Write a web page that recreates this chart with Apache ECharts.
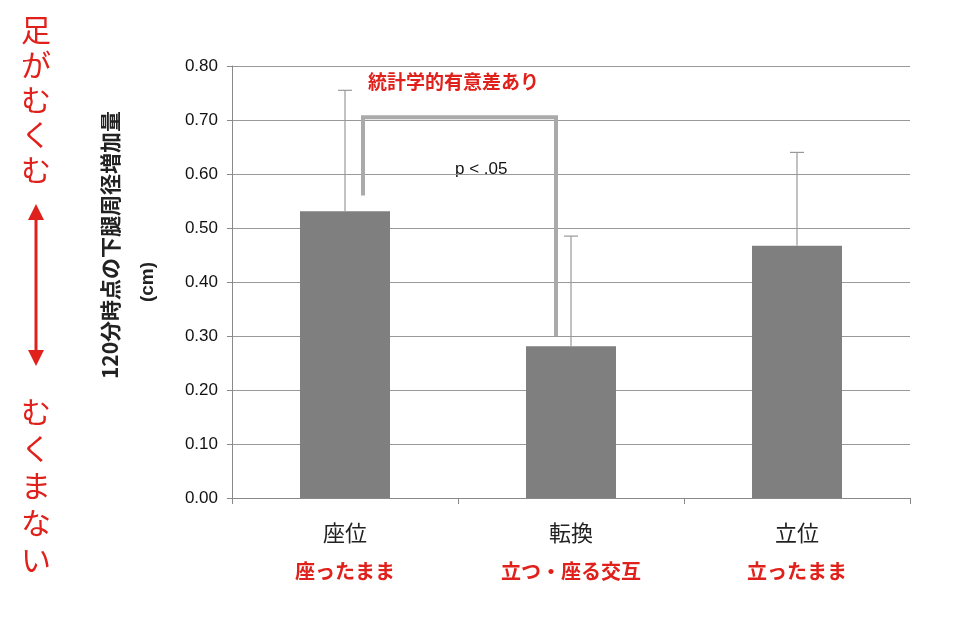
<!DOCTYPE html>
<html><head><meta charset="utf-8">
<script src="https://cdn.jsdelivr.net/npm/echarts@6/dist/echarts.min.js"></script>
<style>html,body{margin:0;background:#fff}#c{width:960px;height:624px}</style></head>
<body><div id="c"></div>
<script>
const categories = ['座位','転換','立位'];
const subLabels = ['座ったまま','立つ・座る交互','立ったまま'];
const means = [0.531, 0.281, 0.467];
const upperErr = [0.755, 0.485, 0.640];
const bracket = {from:0, to:1, leftY:0.56, rightY:0.30, topY:0.705};
const yTicks = [0,0.1,0.2,0.3,0.4,0.5,0.6,0.7,0.8];

const chart = echarts.init(document.getElementById('c'));
const font = '"Noto Sans CJK JP", sans-serif';
chart.setOption({
  animation:false,
  grid:{left:232,right:50,top:66,bottom:126},
  xAxis:{type:'category',data:categories.map((c,i)=>c+'\n{r|'+subLabels[i]+'}'),
    axisLine:{lineStyle:{color:'#888'}},axisTick:{show:true,length:6,lineStyle:{color:'#888'}},
    axisLabel:{interval:0,hideOverlap:false,color:'#222',fontSize:22,fontFamily:font,lineHeight:38,margin:16,
      rich:{r:{color:'#e0201b',fontSize:20,fontFamily:font,fontWeight:'bold',lineHeight:38}}}},
  yAxis:{type:'value',min:0,max:0.8,interval:0.1,
    axisLine:{show:true,lineStyle:{color:'#888'}},axisTick:{show:true,length:5,lineStyle:{color:'#888'}},
    splitLine:{lineStyle:{color:'#999'}},
    axisLabel:{color:'#111',fontSize:17,fontFamily:'Arial, Liberation Sans',margin:14,formatter:v=>v.toFixed(2)}},
  series:[
    {type:'bar',data:means,barWidth:90,itemStyle:{color:'#7f7f7f'},z:2},
    {type:'custom',z:3,data:means.map((m,i)=>[i,m,upperErr[i]]),
      renderItem:(p,api)=>{const a=api.coord([api.value(0),api.value(1)]),b=api.coord([api.value(0),api.value(2)]);
        return {type:'group',children:[
          {type:'line',shape:{x1:a[0],y1:a[1],x2:b[0],y2:b[1]},style:{stroke:'#999',lineWidth:1.2}},
          {type:'line',shape:{x1:b[0]-7,y1:b[1],x2:b[0]+7,y2:b[1]},style:{stroke:'#999',lineWidth:1.2}}]};}},
    {type:'custom',z:4,data:[[bracket.from,bracket.leftY,bracket.to,bracket.rightY,bracket.topY]],
      renderItem:(p,api)=>{const l=api.coord([api.value(0),api.value(1)]),r=api.coord([api.value(2),api.value(3)]),t=api.coord([0,api.value(4)])[1];
        const lx=l[0]+18,rx=r[0]-15;
        return {type:'polyline',shape:{points:[[lx,l[1]],[lx,t],[rx,t],[rx,r[1]]]},style:{stroke:'#aaa',lineWidth:4,fill:null}};}}
  ],
  graphic:[
    {type:'text',left:368,top:72,style:{text:'統計学的有意差あり',fill:'#e0201b',font:'bold 19px '+font}},
    {type:'text',left:455,top:161,style:{text:'p < .05',fill:'#111',font:'17px Arial, Liberation Sans'}},
    {type:'text',x:110,y:245,rotation:Math.PI/2,style:{text:'120分時点の下腿周径増加量',fill:'#222',font:'bold 21px '+font,align:'center',verticalAlign:'middle'}},
    {type:'text',x:148,y:282,rotation:Math.PI/2,style:{text:'(cm)',fill:'#222',font:'bold 19px Arial, Liberation Sans',align:'center',verticalAlign:'middle'}},
    {type:'text',x:36,y:12,style:{text:'足\nが\nむ\nく\nむ',fill:'#e0201b',font:'30px '+font,lineHeight:35,align:'center'}},
    {type:'line',shape:{x1:36,y1:215,x2:36,y2:355},style:{stroke:'#e0201b',lineWidth:3}},
    {type:'polygon',shape:{points:[[28,220],[44,220],[36,204]]},style:{fill:'#e0201b'}},
    {type:'polygon',shape:{points:[[28,350],[44,350],[36,366]]},style:{fill:'#e0201b'}},
    {type:'text',x:36,y:393,style:{text:'む\nく\nま\nな\nい',fill:'#e0201b',font:'30px '+font,lineHeight:37,align:'center'}}
  ]
});
</script></body></html>
